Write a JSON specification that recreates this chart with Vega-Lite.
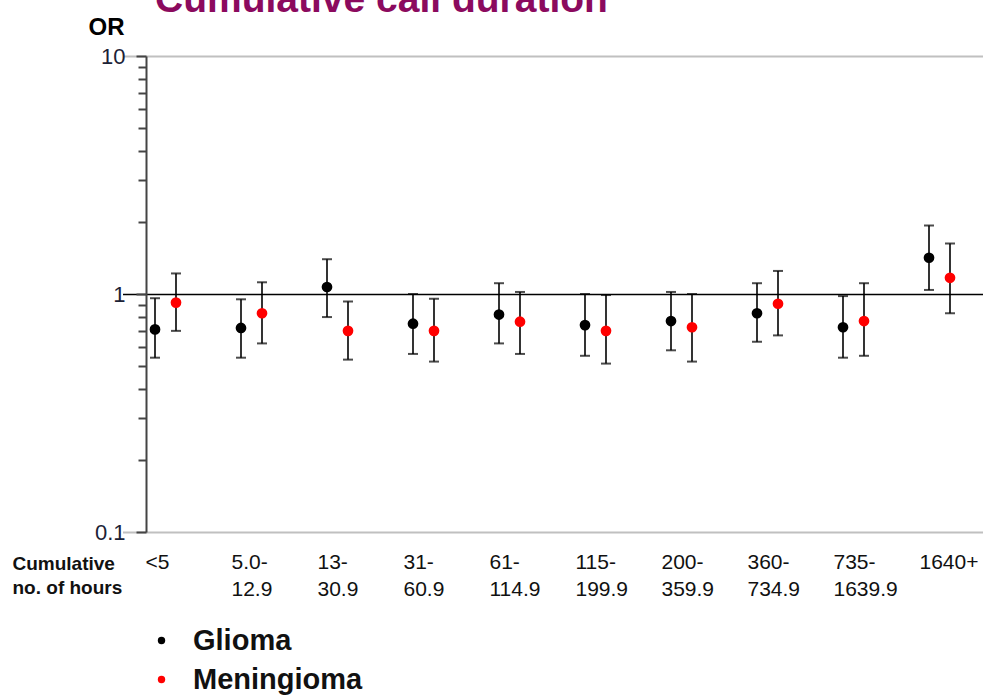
{
  "$schema": "https://vega.github.io/schema/vega-lite/v6.json",
  "width": 848,
  "height": 476,
  "autosize": {"type": "none"},
  "padding": {"left": 146, "top": 56, "right": 0, "bottom": 163},
  "config": {
    "font": "Liberation Sans",
    "view": {"stroke": null},
    "axis": {"labelFont": "Liberation Sans", "titleFont": "Liberation Sans"},
    "legend": {"labelFont": "Liberation Sans"}
  },
  "title": {
    "text": "Cumulative call duration",
    "fontSize": 39,
    "fontWeight": "bold",
    "color": "#8b0a5e",
    "anchor": "start",
    "frame": "group",
    "dx": 9,
    "baseline": "alphabetic",
    "offset": -36
  },
  "data": {
    "values": [
      {"group": "<5", "series": "Glioma", "or": 0.71, "lo": 0.54, "hi": 0.96},
      {"group": "<5", "series": "Meningioma", "or": 0.92, "lo": 0.70, "hi": 1.22},
      {"group": "5.0-12.9", "series": "Glioma", "or": 0.72, "lo": 0.54, "hi": 0.95},
      {"group": "5.0-12.9", "series": "Meningioma", "or": 0.83, "lo": 0.62, "hi": 1.12},
      {"group": "13-30.9", "series": "Glioma", "or": 1.07, "lo": 0.80, "hi": 1.40},
      {"group": "13-30.9", "series": "Meningioma", "or": 0.70, "lo": 0.53, "hi": 0.93},
      {"group": "31-60.9", "series": "Glioma", "or": 0.75, "lo": 0.56, "hi": 1.00},
      {"group": "31-60.9", "series": "Meningioma", "or": 0.70, "lo": 0.52, "hi": 0.955},
      {"group": "61-114.9", "series": "Glioma", "or": 0.82, "lo": 0.62, "hi": 1.11},
      {"group": "61-114.9", "series": "Meningioma", "or": 0.765, "lo": 0.56, "hi": 1.02},
      {"group": "115-199.9", "series": "Glioma", "or": 0.74, "lo": 0.55, "hi": 1.00},
      {"group": "115-199.9", "series": "Meningioma", "or": 0.70, "lo": 0.51, "hi": 0.99},
      {"group": "200-359.9", "series": "Glioma", "or": 0.77, "lo": 0.58, "hi": 1.02},
      {"group": "200-359.9", "series": "Meningioma", "or": 0.725, "lo": 0.52, "hi": 1.00},
      {"group": "360-734.9", "series": "Glioma", "or": 0.83, "lo": 0.63, "hi": 1.11},
      {"group": "360-734.9", "series": "Meningioma", "or": 0.91, "lo": 0.67, "hi": 1.25},
      {"group": "735-1639.9", "series": "Glioma", "or": 0.725, "lo": 0.54, "hi": 0.98},
      {"group": "735-1639.9", "series": "Meningioma", "or": 0.77, "lo": 0.55, "hi": 1.11},
      {"group": "1640+", "series": "Glioma", "or": 1.42, "lo": 1.04, "hi": 1.94},
      {"group": "1640+", "series": "Meningioma", "or": 1.17, "lo": 0.83, "hi": 1.63}
    ]
  },
  "encoding": {
    "x": {
      "field": "group",
      "type": "nominal",
      "sort": null,
      "scale": {"type": "band", "range": [-23.5, 836.5], "paddingInner": 0, "paddingOuter": 0},
      "axis": {
        "title": ["Cumulative", "no. of hours"],
        "titleFontSize": 19,
        "titleFontWeight": "bold",
        "titleColor": "#111111",
        "titleAlign": "left",
        "titleAnchor": "start",
        "titleBaseline": "top",
        "titleX": -134,
        "titleY": 22,
        "titleLineHeight": 24,
        "labelExpr": "indexof(datum.label,'-') > 0 ? [substring(datum.label, 0, indexof(datum.label,'-') + 1), substring(datum.label, indexof(datum.label,'-') + 1)] : datum.label",
        "labelAngle": 0,
        "labelAlign": "left",
        "labelBaseline": "top",
        "labelOffset": -20,
        "labelPadding": 19,
        "labelFontSize": 21,
        "labelLineHeight": 27,
        "labelColor": "#111111",
        "labelOverlap": false,
        "domain": false,
        "ticks": false,
        "grid": false
      }
    },
    "xOffset": {
      "field": "series",
      "type": "nominal",
      "scale": {"type": "point", "domain": ["Glioma", "Meningioma"], "range": [32.5, 53.5], "padding": 0}
    }
  },
  "layer": [
    {
      "mark": {"type": "rule", "color": "#000000", "strokeWidth": 1.6},
      "encoding": {
        "y": {
          "field": "lo",
          "type": "quantitative",
          "scale": {"type": "log", "domain": [0.1, 10], "nice": false},
          "axis": {
            "title": "OR",
            "titleAngle": 0,
            "titleFontSize": 24,
            "titleFontWeight": "bold",
            "titleColor": "#000000",
            "titleAlign": "center",
            "titleBaseline": "alphabetic",
            "titleX": -40,
            "titleY": -22,
            "values": [0.1, 0.2, 0.3, 0.4, 0.5, 0.6, 0.7, 0.8, 0.9, 1, 2, 3, 4, 5, 6, 7, 8, 9, 10],
            "labelExpr": "datum.value == 0.1 ? '0.1' : (datum.value == 1 ? '1' : (datum.value == 10 ? '10' : ''))",
            "labelFontSize": 22,
            "labelColor": "#1c2236",
            "labelPadding": 11,
            "domainColor": "#444444",
            "domainWidth": 2,
            "tickColor": "#444444",
            "tickWidth": 2,
            "tickSize": {"condition": {"test": "datum.value == 0.1 || datum.value == 1 || datum.value == 10", "value": 10}, "value": 8},
            "grid": true,
            "gridColor": {"condition": {"test": "datum.value == 1", "value": "#000000"}, "value": "#c0c0c0"},
            "gridWidth": {"condition": {"test": "datum.value == 1", "value": 1.5}, "value": 2},
            "gridOpacity": {"condition": {"test": "datum.value == 0.1 || datum.value == 1 || datum.value == 10", "value": 1}, "value": 0},
            "labelOverlap": false
          }
        },
        "y2": {"field": "hi"}
      }
    },
    {
      "mark": {"type": "tick", "color": "#000000", "thickness": 2, "size": 10, "orient": "horizontal"},
      "encoding": {"y": {"field": "lo", "type": "quantitative"}}
    },
    {
      "mark": {"type": "tick", "color": "#000000", "thickness": 2, "size": 10, "orient": "horizontal"},
      "encoding": {"y": {"field": "hi", "type": "quantitative"}}
    },
    {
      "mark": {"type": "point", "filled": true, "opacity": 1, "shape": "circle", "size": 115},
      "encoding": {
        "y": {"field": "or", "type": "quantitative"},
        "color": {
          "field": "series",
          "type": "nominal",
          "scale": {"domain": ["Glioma", "Meningioma"], "range": ["#000000", "#ff0000"]},
          "legend": {
            "title": null,
            "orient": "none",
            "legendX": 1,
            "legendY": 570,
            "symbolType": "circle",
            "symbolSize": 55,
            "symbolStrokeWidth": 0,
            "labelFontSize": 29,
            "labelFontWeight": "bold",
            "labelColor": "#111111",
            "labelOffset": 17,
            "labelLimit": 500,
            "rowPadding": 9
          }
        }
      }
    }
  ]
}
